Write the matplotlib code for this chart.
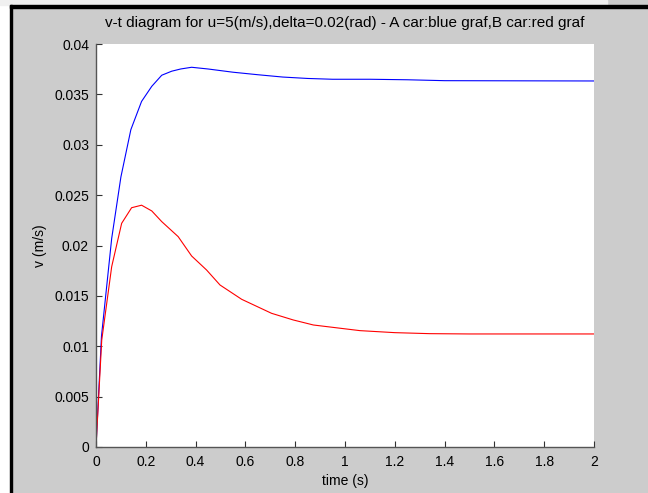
import matplotlib
matplotlib.use('Agg')
import matplotlib.pyplot as plt
from matplotlib.patches import Rectangle

# v-t data (car A blue, car B red)
t_a = [0, 0.022, 0.063, 0.10, 0.14, 0.183, 0.224, 0.264, 0.304, 0.34, 0.384, 0.45, 0.55,
       0.65, 0.75, 0.85, 0.95, 1.1, 1.25, 1.4, 1.6, 1.8, 2.0]
v_a = [0, 0.0110, 0.0207, 0.0268, 0.0315, 0.0343, 0.0358, 0.0369, 0.0373, 0.03752, 0.03769,
       0.03752, 0.0372, 0.03695, 0.03672, 0.03658, 0.0365, 0.0365, 0.03645, 0.03636, 0.03635,
       0.03634, 0.03633]

t_b = [0, 0.023, 0.063, 0.103, 0.143, 0.183, 0.224, 0.264, 0.33, 0.384, 0.444, 0.498, 0.585,
       0.705, 0.792, 0.873, 1.06, 1.2, 1.34, 1.5, 1.7, 2.0]
v_b = [0, 0.0106, 0.0179, 0.0222, 0.02375, 0.0240, 0.02343, 0.02237, 0.02088, 0.01896, 0.01757,
       0.01608, 0.01466, 0.01327, 0.01261, 0.01211, 0.01155, 0.01135, 0.01125, 0.01122, 0.01122,
       0.01122]

x_ticks = [0, 0.2, 0.4, 0.6, 0.8, 1, 1.2, 1.4, 1.6, 1.8, 2]
x_labels = ['0', '0.2', '0.4', '0.6', '0.8', '1', '1.2', '1.4', '1.6', '1.8', '2']
y_ticks = [0, 0.005, 0.01, 0.015, 0.02, 0.025, 0.03, 0.035, 0.04]
y_labels = ['0', '0.005', '0.01', '0.015', '0.02', '0.025', '0.03', '0.035', '0.04']

plt.rcParams['font.family'] = ['Liberation Sans', 'DejaVu Sans']
W, H = 648, 493
fig = plt.figure(figsize=(W / 100, H / 100), dpi=100, facecolor='#cccccc')

# window frame bits around the figure
fig.patches.append(Rectangle((0, 0), 10 / W, 1, transform=fig.transFigure, color='white', zorder=0))
fig.patches.append(Rectangle((0, 1 - 5 / H), 607 / W, 5 / H, transform=fig.transFigure,
                             color='#f0f0f0', zorder=0))
fig.patches.append(Rectangle((10 / W, 0), 2 / W, 1 - 5 / H, transform=fig.transFigure,
                             color='black', zorder=1))
fig.patches.append(Rectangle((10 / W, 1 - 7.5 / H), 1 - 10 / W, 2.5 / H, transform=fig.transFigure,
                             color='black', zorder=1))

ax = fig.add_axes([96 / W, 46 / H, 498 / W, 403 / H])
ax.plot(t_a, v_a, color='blue', lw=0.8)
ax.plot(t_b, v_b, color='red', lw=0.8)

ax.set_xlim(0, 2)
ax.set_ylim(0, 0.04)
ax.set_xticks(x_ticks)
ax.set_xticklabels(x_labels)
ax.set_yticks(y_ticks)
ax.set_yticklabels(y_labels)

for side in ['top', 'right']:
    ax.spines[side].set_visible(False)
for side in ['left', 'bottom']:
    ax.spines[side].set_color('#555555')
    ax.spines[side].set_linewidth(1.0)
ax.tick_params(direction='in', length=4, width=0.8, color='#333333', labelsize=10)
ax.tick_params(axis='x', pad=6)
ax.tick_params(axis='y', pad=5)

ax.set_title('v-t diagram for u=5(m/s),delta=0.02(rad) - A car:blue graf,B car:red graf',
             fontsize=11, pad=12)
ax.set_xlabel('time (s)', fontsize=10, labelpad=3)
ax.set_ylabel('v (m/s)', fontsize=10, labelpad=5)

fig.savefig('out.png', dpi=100, facecolor=fig.get_facecolor())
